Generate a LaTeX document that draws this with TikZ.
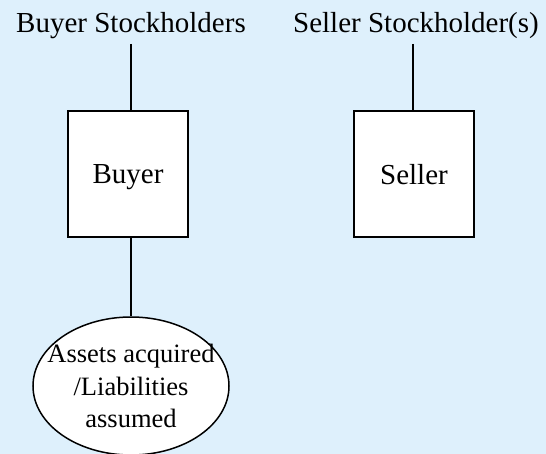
\documentclass[tikz,border=0pt]{standalone}
\usepackage{fontspec}
\setmainfont{Liberation Serif}
\usetikzlibrary{shapes.geometric}
\definecolor{bgblue}{HTML}{DEF0FC}
\tikzset{
  title/.style={font=\fontsize{29}{34}\selectfont, inner sep=0pt, anchor=base},
  entity/.style={draw=black, line width=2pt, fill=white, minimum width=120pt, minimum height=126pt,
    font=\fontsize{29}{34}\selectfont, text depth=0pt, inner sep=0pt},
  bubble/.style={ellipse, draw=black, line width=1.5pt, fill=white, minimum width=196pt, minimum height=138pt,
    inner sep=0pt},
  bubbletext/.style={inner sep=0pt, align=center, font=\fontsize{26.5}{32.5}\selectfont},
  stem/.style={draw=black, line width=1.5pt}
}
\begin{document}
\begin{tikzpicture}[x=1pt,y=-1pt]
\fill[bgblue] (0,0) rectangle (546,454);
\useasboundingbox (0,0) rectangle (546,454);
\node[title] (bsh) at (131,33) {Buyer Stockholders};
\node[title] (ssh) at (416,33) {Seller Stockholder(s)};
\node[entity] (buyer) at (128,174) {Buyer};
\node[entity] (seller) at (414,174) {Seller};
\node[bubble] (assets) at (131,386) {};
\node[bubbletext] (assetstext) at (assets.center) {Assets acquired\\/Liabilities\hspace*{12pt}\\assumed};
\coordinate (bstop) at (131,44);
\coordinate (sstop) at (413,44);
\draw[stem] (bstop) -- (bstop |- buyer.north);
\draw[stem] (sstop) -- (sstop |- seller.north);
\draw[stem] (assets.north |- buyer.south) -- (assets.north);
\end{tikzpicture}
\end{document}
